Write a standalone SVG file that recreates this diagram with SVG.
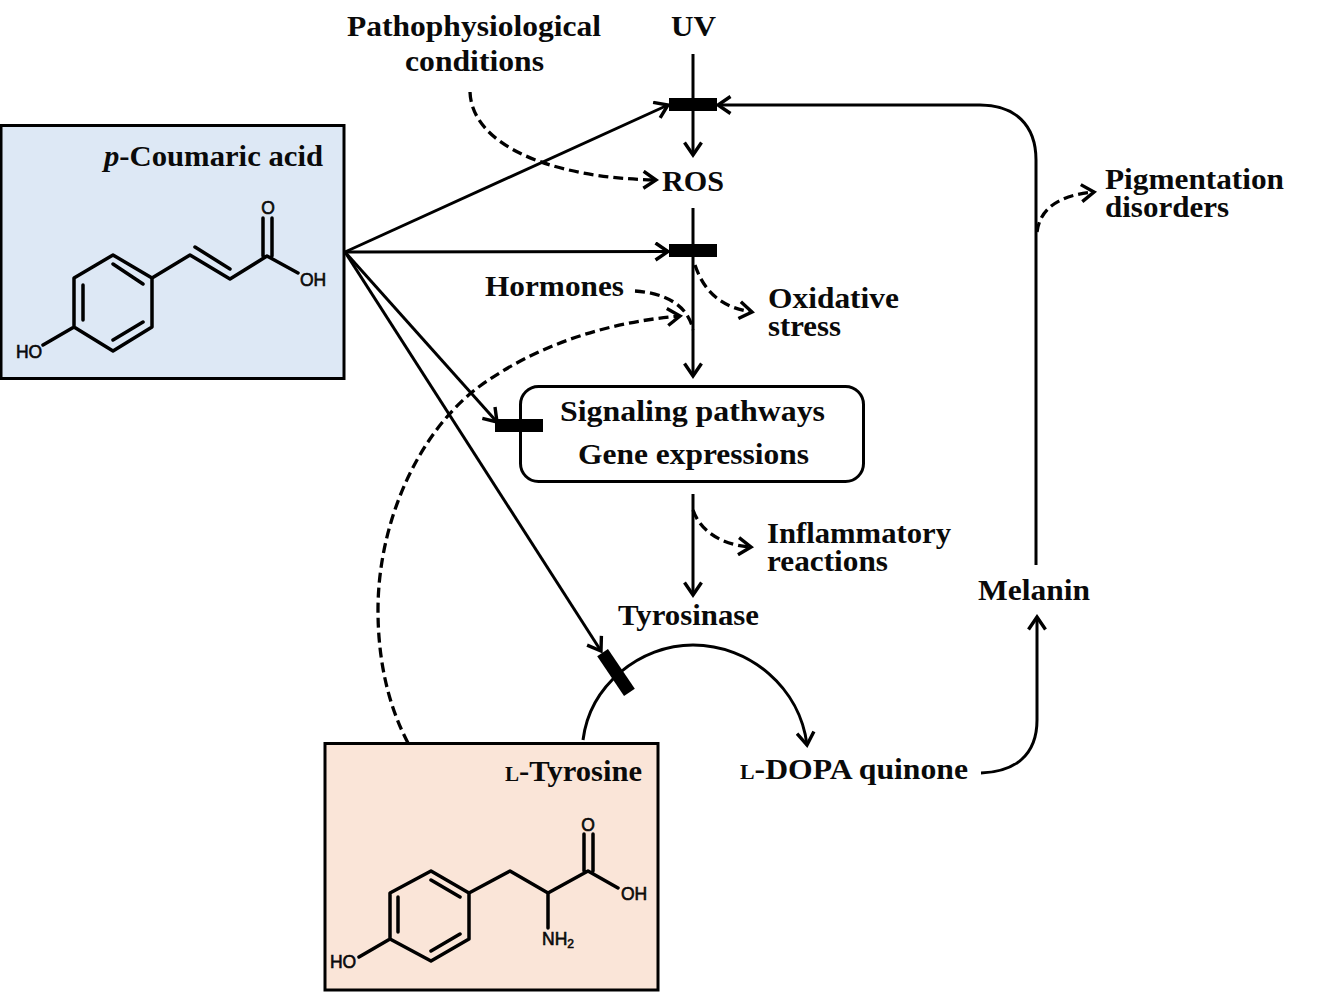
<svg xmlns="http://www.w3.org/2000/svg" width="1322" height="992" viewBox="0 0 1322 992">
<style>
.lbl{font-family:"Liberation Serif","Times New Roman",serif;font-weight:700;font-size:29px;fill:#0a0a0a}
.sc{font-size:20px}
.it{font-style:italic}
.chem{font-family:"Liberation Sans",Arial,sans-serif;font-size:17.500px;fill:#0a0a0a;stroke:#0a0a0a;stroke-width:.6}
.sub{font-size:12px}
.box{stroke:#000;stroke-width:3}
.c{fill:none;stroke:#000;stroke-width:3;marker-end:url(#arrow)}
.d{fill:none;stroke:#000;stroke-width:3.300;stroke-dasharray:10 5;marker-end:url(#arrow)}
.dn{fill:none;stroke:#000;stroke-width:3.300;stroke-dasharray:10 5}
.bond{fill:none;stroke:#000;stroke-width:3.500;stroke-linejoin:round;stroke-linecap:round}
</style>
<defs>
<marker id="arrow" markerUnits="userSpaceOnUse" markerWidth="20" markerHeight="20" refX="16.500" refY="10" orient="auto" viewBox="0 0 20 20">
<path d="M4 1.500 L16.500 10 L4 18.500" fill="none" stroke="#000" stroke-width="3.400"/>
</marker>
</defs>
<rect width="1322" height="992" fill="#fff"/>

<g id="coumaric">
<rect class="box" x="1" y="125.500" width="343" height="253" fill="#dde8f5"/>
<text class="lbl" x="104" y="166" textLength="219" lengthAdjust="spacingAndGlyphs"><tspan class="it">p</tspan>-Coumaric acid</text>
<path class="bond" d="M113 255 L152 278 V327 L113 351 L74 327 V278 Z M152 278 L190 255 L230 279 L267 256 L298 273 M113 264 L143 284 M143 322 L113 340 M83 320 V285 M195 247 L230 269 M263 256 V218 M272 256 V218 M74 327 L43 345"/>
<text class="chem" x="268" y="214" text-anchor="middle">O</text>
<text class="chem" x="313" y="286" text-anchor="middle">OH</text>
<text class="chem" x="29" y="358" text-anchor="middle">HO</text>
</g>

<g id="tyrosine">
<rect class="box" x="325" y="743.500" width="333" height="246.500" fill="#fae5d8"/>
<text class="lbl" x="505" y="781" textLength="137" lengthAdjust="spacingAndGlyphs"><tspan class="sc">L</tspan>-Tyrosine</text>
<path class="bond" d="M431 871 L469 893 V939 L431 961 L390 939 V893 Z M469 893 L510 871 L548 893 L588 871 L618 888 M431 880 L460 897 M460 934 L431 951 M398 932 V897 M548 893 V928 M584 871 V834 M593 871 V834 M390 939 L359 957"/>
<text class="chem" x="588" y="831" text-anchor="middle">O</text>
<text class="chem" x="634" y="900" text-anchor="middle">OH</text>
<text class="chem" x="343" y="968" text-anchor="middle">HO</text>
<text class="chem" x="542" y="945">NH<tspan class="sub" dy="3">2</tspan></text>
</g>

<g id="connectors">
<path class="c" d="M345 252 L668 105"/>
<path class="c" d="M345 252 L668 251.500"/>
<path class="c" d="M345 252 L497 422"/>
<path class="c" d="M345 252 L601 651"/>
<path class="c" d="M693 54 V155"/>
<path class="c" d="M693 208 V376"/>
<path class="c" d="M693 494 V595"/>
<path class="c" d="M1036 565 V160 C1036 125 1015 105 980 105 H718"/>
<path class="c" d="M981 773 C1015 772 1037 755 1037 720 V617"/>
<path class="c" d="M583 740 C590 685 640 645 693 645 C750 645 800 688 807 745"/>
<path class="d" d="M470 92 C472 145 550 178 656 180"/>
<path class="dn" d="M635 291 C665 293 688 305 693 330"/>
<path class="d" d="M408 743 C388 705 378 660 378 610 C378 520 420 430 480 386 C540 343 610 322 680 316"/>
<path class="d" d="M695 265 C705 295 725 308 752 312"/>
<path class="d" d="M693 510 C700 530 720 545 751 547"/>
<path class="d" d="M1037 232 C1040 208 1060 195 1094 192"/>
</g>

<g id="signaling">
<rect class="box" x="520.500" y="386.500" width="343" height="95" rx="18" fill="#fff"/>
<text class="lbl" x="560" y="421" textLength="265" lengthAdjust="spacingAndGlyphs">Signaling pathways</text>
<text class="lbl" x="578" y="464" textLength="231" lengthAdjust="spacingAndGlyphs">Gene expressions</text>
</g>
<g id="inhibitors" fill="#000">
<rect x="669" y="98" width="48" height="13"/>
<rect x="669" y="244" width="48" height="13"/>
<rect x="495" y="419" width="48" height="13"/>
<rect x="592" y="666" width="48" height="13" transform="rotate(56 616 672.500)"/>
</g>
<g id="patho"><text class="lbl" x="347" y="36" textLength="254" lengthAdjust="spacingAndGlyphs">Pathophysiological</text>
<text class="lbl" x="405" y="71" textLength="139" lengthAdjust="spacingAndGlyphs">conditions</text></g>
<g id="uv"><text class="lbl" x="671" y="36" textLength="45" lengthAdjust="spacingAndGlyphs">UV</text></g>
<g id="ros"><text class="lbl" x="662" y="191" textLength="62" lengthAdjust="spacingAndGlyphs">ROS</text></g>
<g id="pigmentation"><text class="lbl" x="1105" y="189" textLength="179" lengthAdjust="spacingAndGlyphs">Pigmentation</text>
<text class="lbl" x="1105" y="217" textLength="124" lengthAdjust="spacingAndGlyphs">disorders</text></g>
<g id="oxidative"><text class="lbl" x="768" y="308" textLength="131" lengthAdjust="spacingAndGlyphs">Oxidative</text>
<text class="lbl" x="768" y="336" textLength="73" lengthAdjust="spacingAndGlyphs">stress</text></g>
<g id="hormones"><text class="lbl" x="485" y="296" textLength="139" lengthAdjust="spacingAndGlyphs">Hormones</text></g>
<g id="inflammatory"><text class="lbl" x="767" y="543" textLength="184" lengthAdjust="spacingAndGlyphs">Inflammatory</text>
<text class="lbl" x="767" y="571" textLength="121" lengthAdjust="spacingAndGlyphs">reactions</text></g>
<g id="tyrosinase"><text class="lbl" x="618" y="625" textLength="141" lengthAdjust="spacingAndGlyphs">Tyrosinase</text></g>
<g id="melanin"><text class="lbl" x="978" y="600" textLength="112" lengthAdjust="spacingAndGlyphs">Melanin</text></g>
<g id="dopa"><text class="lbl" x="740" y="779" textLength="228" lengthAdjust="spacingAndGlyphs"><tspan class="sc">L</tspan>-DOPA quinone</text></g>
</svg>
